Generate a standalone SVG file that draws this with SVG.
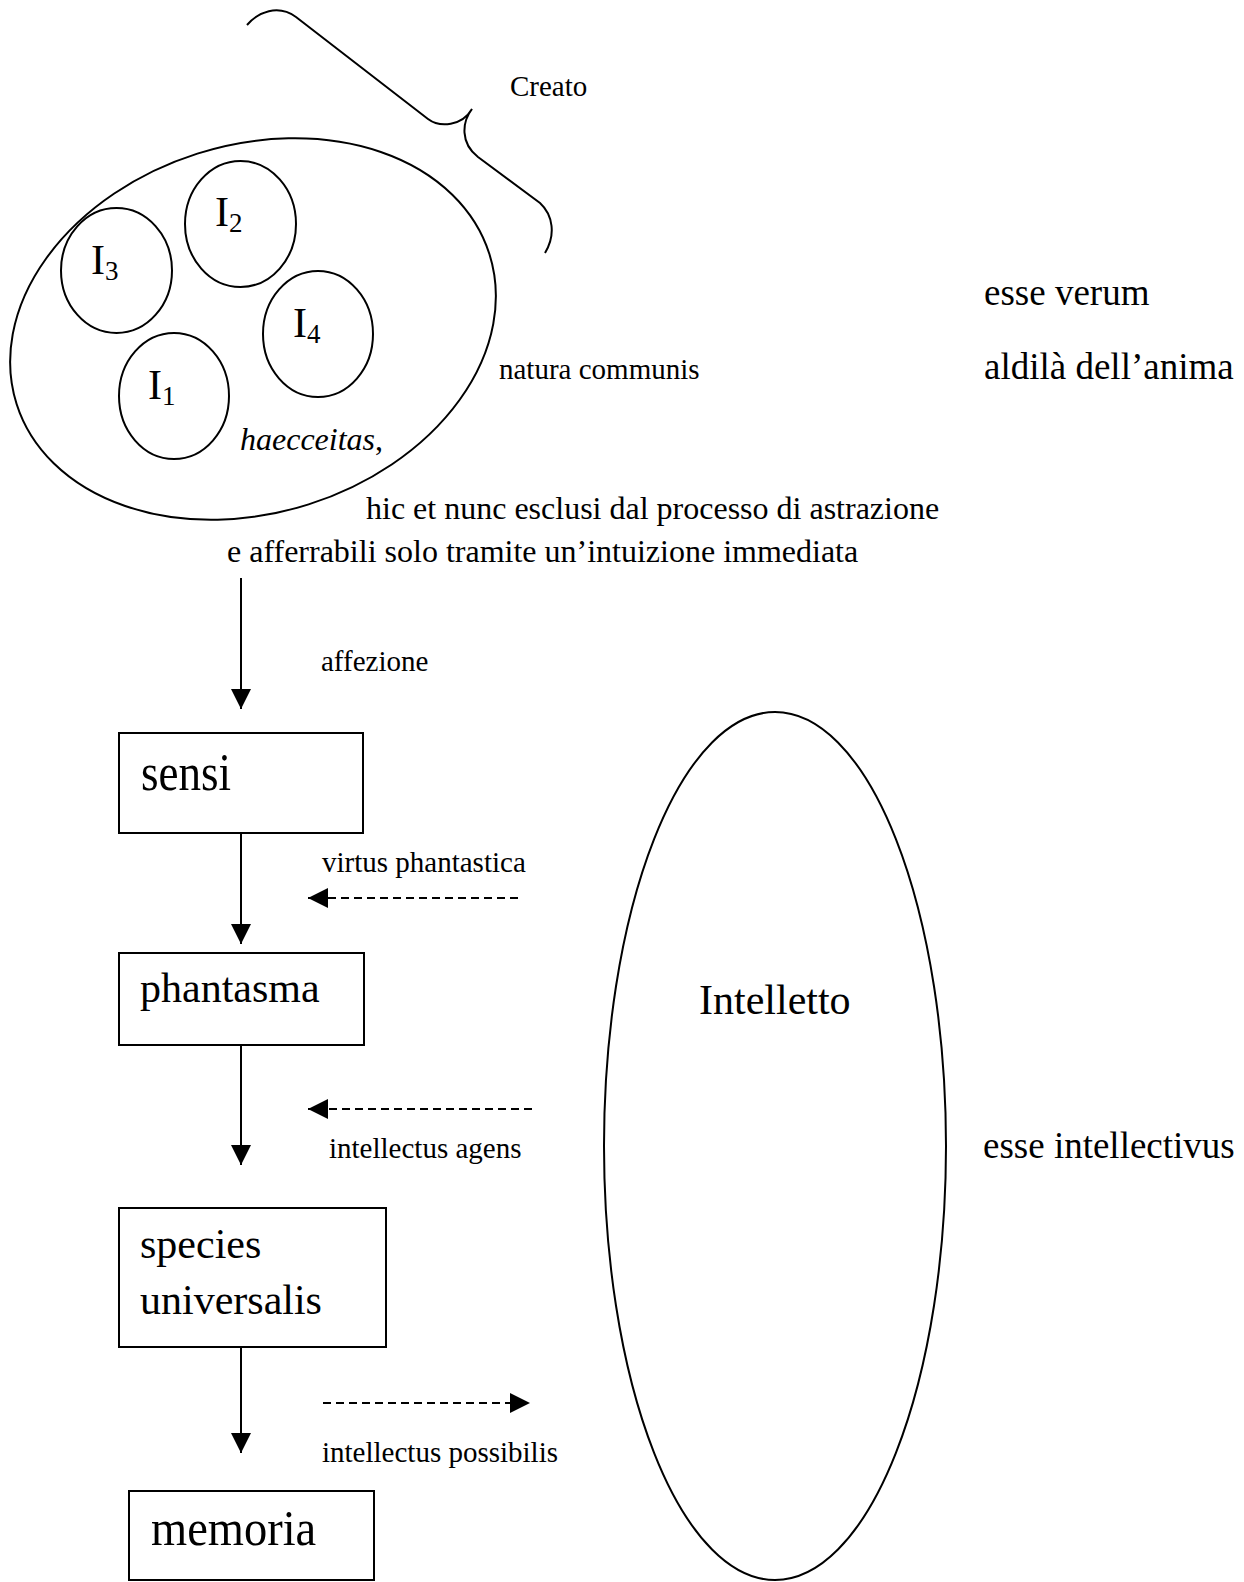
<svg xmlns="http://www.w3.org/2000/svg" width="1244" height="1582" viewBox="0 0 1244 1582">
<style>
text{font-family:"Liberation Serif","Times New Roman",serif;fill:#000}
.s{fill:none;stroke:#000;stroke-width:2}
.ln{stroke:#000;stroke-width:2;fill:none}
.d{stroke:#000;stroke-width:2;fill:none;stroke-dasharray:8 5}
.t29{font-size:29px}
.t32{font-size:32px}
.t37{font-size:37px}
.t42{font-size:42px}
.sub{font-size:27px}
</style>
<defs>
<marker id="ah" markerUnits="userSpaceOnUse" markerWidth="20" markerHeight="20" refX="20" refY="10" orient="auto" viewBox="0 0 20 20">
<path d="M0,0 L20,10 L0,20 z" fill="#000"/>
</marker>
</defs>
<rect width="1244" height="1582" fill="#fff"/>
<g id="creato">
<path class="s" d="M 247 25 C 258 12, 278 4, 296 17 L 428 119 C 440 128, 462 126, 472 109 C 462 122, 460 143, 478 157 L 540 203 C 553 215, 556 235, 545 253"/>
<text class="t29" x="510" y="96">Creato</text>
</g>
<g id="natura">
<ellipse class="s" cx="253" cy="329" rx="248" ry="184" transform="rotate(-17.6 253 329)"/>
<text class="t29" x="499" y="379">natura communis</text>
<text class="t32" x="240" y="450" font-style="italic">haecceitas<tspan font-style="normal">,</tspan></text>
</g>
<g id="i2">
<ellipse class="s" cx="240.5" cy="224" rx="55.5" ry="63"/>
<text class="t42" x="215" y="226">I<tspan class="sub" dy="6">2</tspan></text>
</g>
<g id="i3">
<ellipse class="s" cx="116.5" cy="270.5" rx="55.5" ry="62.5"/>
<text class="t42" x="91" y="274">I<tspan class="sub" dy="6">3</tspan></text>
</g>
<g id="i4">
<ellipse class="s" cx="318" cy="334" rx="55" ry="63"/>
<text class="t42" x="293" y="337">I<tspan class="sub" dy="6">4</tspan></text>
</g>
<g id="i1">
<ellipse class="s" cx="174" cy="396" rx="55" ry="63"/>
<text class="t42" x="148" y="399">I<tspan class="sub" dy="6">1</tspan></text>
</g>
<g id="labels-right">
<text class="t37" x="984" y="305">esse verum</text>
<text class="t37" x="984" y="379">aldilà dell’anima</text>
<text class="t37" x="983" y="1158">esse intellectivus</text>
</g>
<g id="note">
<text class="t32" x="366" y="519">hic et nunc esclusi dal processo di astrazione</text>
<text class="t32" x="227" y="562">e afferrabili solo tramite un’intuizione immediata</text>
</g>
<g id="sensi">
<rect class="s" x="119" y="733" width="244" height="100"/>
<text font-size="53" transform="matrix(0.85 0 0 1 141 790)">sensi</text>
</g>
<g id="phantasma">
<rect class="s" x="119" y="953" width="245" height="92"/>
<text class="t42" x="140" y="1002">phantasma</text>
</g>
<g id="species">
<rect class="s" x="119" y="1208" width="267" height="139"/>
<text class="t42" x="140" y="1258">species</text>
<text class="t42" x="140" y="1314">universalis</text>
</g>
<g id="memoria">
<rect class="s" x="129" y="1491" width="245" height="89"/>
<text font-size="50" transform="matrix(0.93 0 0 1 151 1545)">memoria</text>
</g>
<g id="intelletto">
<ellipse class="s" cx="775" cy="1146" rx="171" ry="434"/>
<text class="t42" x="699" y="1014">Intelletto</text>
</g>
<g id="connectors">
<line class="ln" x1="241" y1="578" x2="241" y2="709" marker-end="url(#ah)"/>
<line class="ln" x1="241" y1="833" x2="241" y2="944" marker-end="url(#ah)"/>
<line class="ln" x1="241" y1="1045" x2="241" y2="1165" marker-end="url(#ah)"/>
<line class="ln" x1="241" y1="1347" x2="241" y2="1453" marker-end="url(#ah)"/>
<line class="d" x1="518" y1="898" x2="308" y2="898" marker-end="url(#ah)"/>
<line class="d" x1="532" y1="1109" x2="308" y2="1109" marker-end="url(#ah)"/>
<line class="d" x1="323" y1="1403" x2="530" y2="1403" marker-end="url(#ah)"/>
<text class="t29" x="321" y="671">affezione</text>
<text class="t29" x="322" y="872">virtus phantastica</text>
<text class="t29" x="329" y="1158">intellectus agens</text>
<text class="t29" x="322" y="1462">intellectus possibilis</text>
</g>
</svg>
